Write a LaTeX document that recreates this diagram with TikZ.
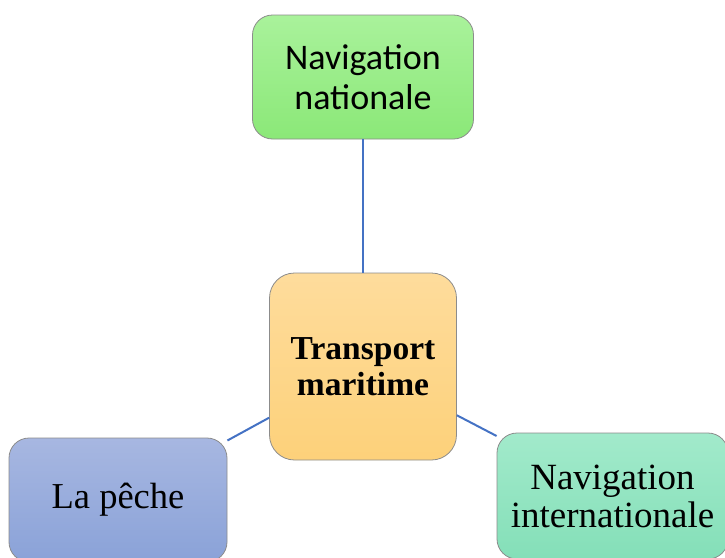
\documentclass[tikz,border=0pt]{standalone}
\usepackage{fontspec}
\setmainfont{Liberation Serif}
\newfontfamily\calib{Carlito}
\definecolor{linkblue}{HTML}{4472C4}
\definecolor{gtop}{HTML}{A9F29B}
\definecolor{gbot}{HTML}{8BE878}
\definecolor{otop}{HTML}{FEDC9C}
\definecolor{obot}{HTML}{FDD17A}
\definecolor{btop}{HTML}{A7B7E1}
\definecolor{bbot}{HTML}{8AA2D8}
\definecolor{ttop}{HTML}{A2EACB}
\definecolor{tbot}{HTML}{84DFB8}
\tikzset{
  box/.style={draw=black!45, line width=0.8pt, rounded corners=20pt, inner sep=0pt, align=center},
  link/.style={draw=linkblue, line width=2pt},
}
\begin{document}
\begin{tikzpicture}[x=1pt,y=-1pt]
\useasboundingbox (0,0) rectangle (725,557);
\clip (0,0) rectangle (725,557);
\node[box, top color=gtop, bottom color=gbot, minimum width=221pt, minimum height=124pt,
  font=\calib\fontsize{36}{40}\selectfont] (top) at (363,77) {Navigation\\nationale};
\node[box, rounded corners=25pt, top color=otop, bottom color=obot, minimum width=187pt, minimum height=187pt,
  font=\bfseries\fontsize{33.5}{34}\selectfont] (mid) at (363,366.5) {\raisebox{1.5pt}{Transport}\\maritime};
\node[box, top color=btop, bottom color=bbot, minimum width=218pt, minimum height=124pt,
  font=\fontsize{36.5}{38}\selectfont] (peche) at (118,500) {La pêche};
\node[box, top color=ttop, bottom color=tbot, minimum width=231pt, minimum height=126pt,
  font=\fontsize{37}{38}\selectfont] (intl) at (612.5,496) {Navigation\\internationale};
\draw[link] (mid) -- (top);
\draw[link] (mid) -- (peche);
\draw[link] (mid) -- (intl);
\end{tikzpicture}
\end{document}
